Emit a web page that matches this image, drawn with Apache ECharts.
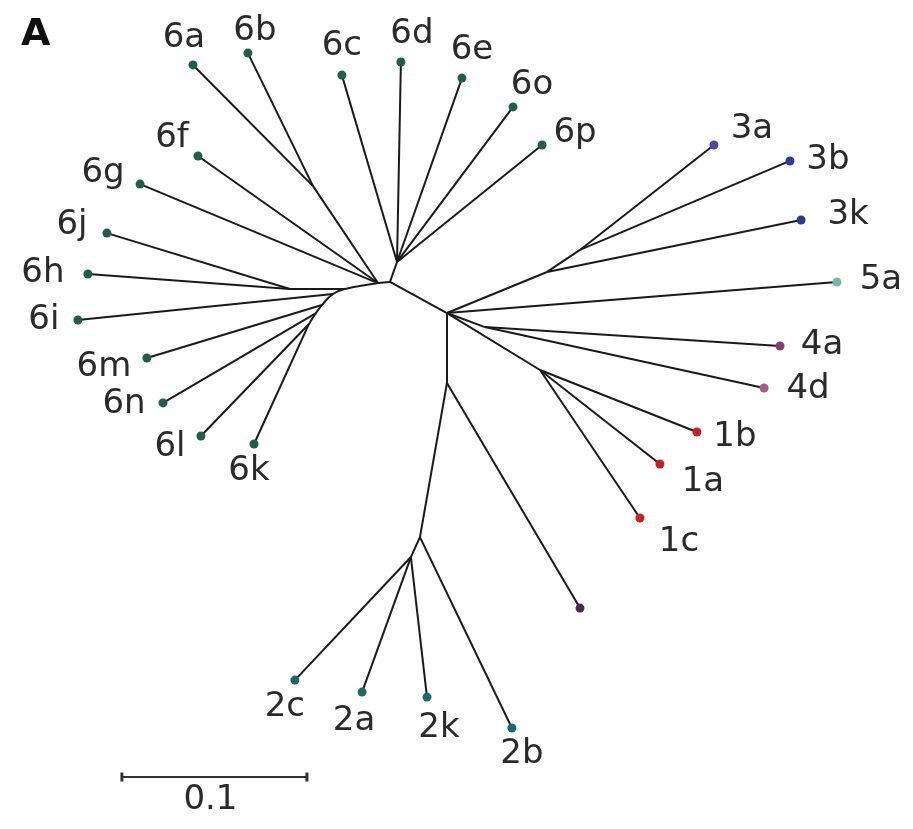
<!DOCTYPE html>
<html>
<head>
<meta charset="utf-8">
<script src="https://cdn.jsdelivr.net/npm/echarts@6/dist/echarts.min.js"></script>
<style>
  html,body{margin:0;padding:0;background:#fff;}
  #chart{width:913px;height:829px;}
</style>
</head>
<body>
<div id="chart"></div>
<script>
(function(){
  // tree coordinates in branch-length units (scale bar = 0.1)
  const internalNames  = ['R','A','Gtop','L1','Hab','L2','Hjh','L3','L4','L5','L6','J3','J3ab','J4','J1','D','E','F'];
  const internalX      = [0,-0.0308,-0.0270,-0.0373,-0.0724,-0.0551,-0.0849,-0.0616,-0.0676,-0.0708,-0.0746,0.0541,0.0719,0.0205,0.0503,0,-0.0146,-0.0195];
  const internalY      = [0,0.0168,0.0276,0.0162,0.0686,0.0130,0.0130,0.0103,0.0043,0,-0.0059,0.0222,0.0341,-0.0076,-0.0308,-0.0378,-0.1211,-0.1319];
  const internalParent = [null,'R','A','L1','L1','L2','L2','L3','L4','L5','L6','R','J3','R','R','R','D','E'];

  // curved backbone of clade 6
  const arcPath = ['A','L1','L2','L3','L4','L5','L6'];

  const leafNames  = ['6a','6b','6c','6d','6e','6o','6p','6f','6g','6j','6h','6i','6m','6n','6l','6k',
                      '3a','3b','3k','5a','4a','4d','1b','1a','1c','','2c','2a','2k','2b'];
  const leafX      = [-0.1373,-0.1076,-0.0568,-0.0249,0.0081,0.0357,0.0514,-0.1346,-0.1659,-0.1838,-0.1941,-0.1995,-0.1622,-0.1535,-0.1330,-0.1043,
                      0.1443,0.1854,0.1914,0.2108,0.1800,0.1714,0.1351,0.1151,0.1043,0.0719,-0.0822,-0.0459,-0.0108,0.0351];
  const leafY      = [0.1341,0.1405,0.1286,0.1357,0.1270,0.1114,0.0908,0.0849,0.0697,0.0432,0.0211,-0.0038,-0.0243,-0.0486,-0.0665,-0.0708,
                      0.0908,0.0822,0.0503,0.0168,-0.0178,-0.0405,-0.0643,-0.0816,-0.1108,-0.1595,-0.1984,-0.2049,-0.2076,-0.2243];
  const leafParent = ['Hab','Hab','Gtop','Gtop','Gtop','Gtop','Gtop','L1','L1','Hjh','Hjh','L3','L4','L5','L6','L6',
                      'J3ab','J3ab','J3','R','J4','J4','J1','J1','J1','D','F','F','F','E'];

  const scaleStart = [-0.1757,-0.2508];
  const scaleLength = 0.1;
  const scaleLabel = '0.1';

  // styles
  const dotColor = {
    '6a':'#1f5f48','6b':'#1f5f48','6c':'#1f5f48','6d':'#1f5f48','6e':'#1f5f48','6o':'#1f5f48','6p':'#1f5f48',
    '6f':'#1f5f48','6g':'#1f5f48','6j':'#1f5f48','6h':'#1f5f48','6i':'#1f5f48','6m':'#1f5f48','6n':'#1f5f48',
    '6l':'#1f5f48','6k':'#1f5f48',
    '3a':'#4b4b9e','3b':'#2b3ba0','3k':'#2b3b90','5a':'#72b9a9','4a':'#8b3b6b','4d':'#a85c86',
    '1b':'#c82020','1a':'#c82020','1c':'#c82020','':'#4a2a4a',
    '2c':'#1a6a6a','2a':'#1a6a6a','2k':'#1a6a6a','2b':'#1a6a6a'
  };
  const labelOffset = {
    '6a':[-9,-27],'6b':[7,-22],'6c':[0,-29],'6d':[11,-28],'6e':[10,-28],'6o':[19,-22],'6p':[33,-12],
    '6f':[-26,-18],'6g':[-37,-11],'6j':[-35,-8],'6h':[-45,-1],'6i':[-34,0],'6m':[-43,9],'6n':[-39,1],
    '6l':[-31,11],'6k':[-5,27],
    '3a':[38,-16],'3b':[38,-1],'3k':[47,-5],'5a':[44,-2],'4a':[42,-1],'4d':[44,1],
    '1b':[38,5],'1a':[43,18],'1c':[39,24],'':[0,0],
    '2c':[-10,27],'2a':[-8,29],'2k':[12,31],'2b':[10,26]
  };
  const FONT = 'DejaVu Sans';
  const TEXT = '#2a2a2a';

  const pos = {};
  internalNames.forEach((n,i)=>{ pos[n] = [internalX[i], internalY[i]]; });
  leafNames.forEach((n,i)=>{ pos['leaf'+i] = [leafX[i], leafY[i]]; });

  const arcEdges = new Set();
  for(let i=1;i<arcPath.length;i++) arcEdges.add(arcPath[i-1]+'>'+arcPath[i]);

  const edges = [];
  internalNames.forEach((n,i)=>{
    const p = internalParent[i];
    if(p && !arcEdges.has(p+'>'+n)) edges.push({coords:[pos[p], pos[n]]});
  });
  leafNames.forEach((n,i)=>{ edges.push({coords:[pos[leafParent[i]], pos['leaf'+i]]}); });

  const leaves = leafNames.map((n,i)=>({
    name:n,
    value:[leafX[i], leafY[i]],
    itemStyle:{color:dotColor[n],opacity:1},
    label:{offset:labelOffset[n]}
  }));

  const scaleEnd = [scaleStart[0]+scaleLength, scaleStart[1]];
  const scaleMid = [scaleStart[0]+scaleLength/2, scaleStart[1]];

  const chart = echarts.init(document.getElementById('chart'));
  chart.setOption({
    animation:false,
    backgroundColor:'#fff',
    title:{text:'A',left:16,top:11,textStyle:{fontFamily:FONT,fontSize:38,fontWeight:'bold',color:'#111'}},
    grid:{left:0,right:0,top:0,bottom:0},
    xAxis:{type:'value',min:-0.2416,max:0.2519,show:false},
    yAxis:{type:'value',min:-0.2789,max:0.1692,show:false},
    series:[
      {
        type:'lines',coordinateSystem:'cartesian2d',silent:true,z:2,
        lineStyle:{color:'#1a1a1a',width:2,opacity:1},
        data:edges
      },
      {
        type:'line',smooth:0.45,showSymbol:false,silent:true,z:2,
        lineStyle:{color:'#1a1a1a',width:2},
        data:arcPath.map(n=>pos[n])
      },
      {
        type:'scatter',symbol:'circle',symbolSize:9,z:5,
        itemStyle:{opacity:1},
        label:{show:true,position:'inside',formatter:'{b}',fontFamily:FONT,fontSize:34,color:TEXT,opacity:1},
        data:leaves
      },
      {
        type:'lines',coordinateSystem:'cartesian2d',silent:true,
        lineStyle:{color:'#333',width:2,opacity:1},
        data:[{coords:[scaleStart, scaleEnd]}]
      },
      {
        type:'scatter',symbol:'rect',symbolSize:[3,9],silent:true,
        itemStyle:{color:'#333',opacity:1},
        data:[scaleStart, scaleEnd]
      },
      {
        type:'scatter',symbolSize:0,silent:true,
        itemStyle:{opacity:1},
        label:{show:true,position:'inside',offset:[-4,23],formatter:()=>scaleLabel,fontFamily:FONT,fontSize:34,color:TEXT,opacity:1},
        data:[scaleMid]
      }
    ]
  });
})();
</script>
</body>
</html>
